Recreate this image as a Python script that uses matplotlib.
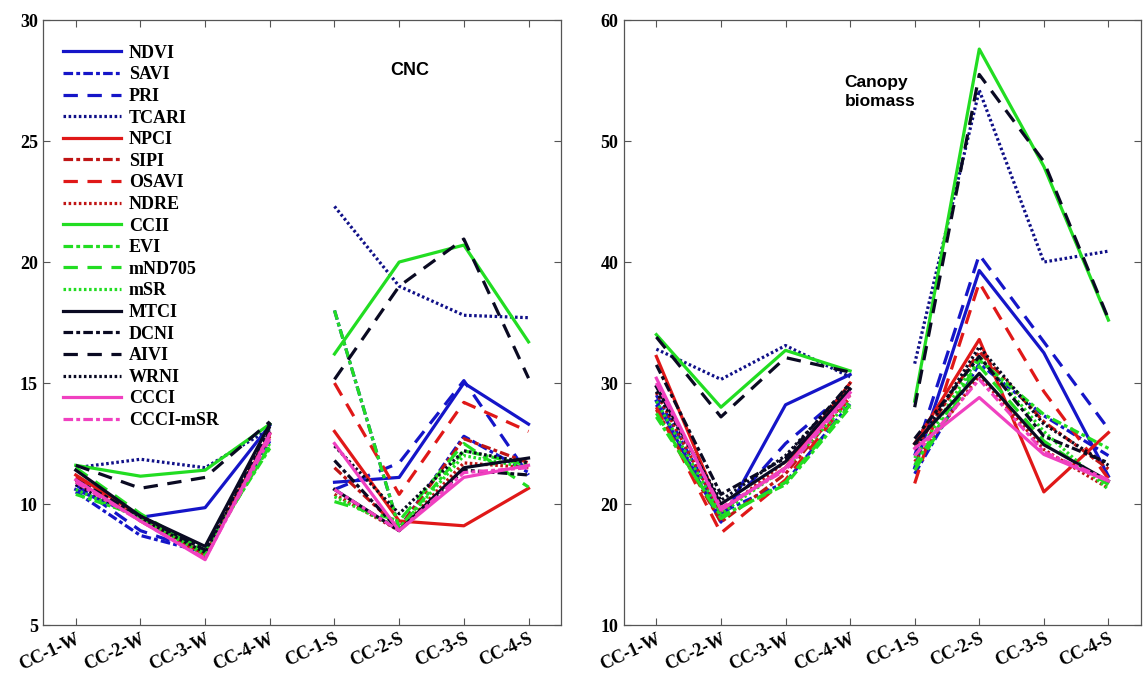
import matplotlib
matplotlib.use("Agg")
import matplotlib.pyplot as plt
import numpy as np

categories = ["CC-1-W", "CC-2-W", "CC-3-W", "CC-4-W", "CC-1-S", "CC-2-S", "CC-3-S", "CC-4-S"]
indices = ["NDVI", "SAVI", "PRI", "TCARI", "NPCI", "SIPI", "OSAVI", "NDRE",
           "CCII", "EVI", "mND705", "mSR", "MTCI", "DCNI", "AIVI", "WRNI",
           "CCCI", "CCCI-mSR"]

# CNC panel (values per index, 8 categories)
cnc_NDVI = [10.6, 9.45, 9.85, 13.25, 10.9, 11.1, 15.0, 13.3]
cnc_SAVI = [10.5, 8.7, 8.0, 12.6, 18.0, 9.0, 12.8, 11.3]
cnc_PRI = [10.8, 8.9, 8.0, 12.8, 10.6, 11.7, 15.1, 11.2]
cnc_TCARI = [11.5, 11.85, 11.5, 13.1, 22.3, 19.0, 17.8, 17.7]
cnc_NPCI = [11.2, 9.5, 7.9, 12.9, 13.0, 9.3, 9.1, 10.65]
cnc_SIPI = [11.0, 9.4, 7.9, 12.9, 11.5, 9.0, 12.7, 11.7]
cnc_OSAVI = [11.1, 9.3, 7.8, 13.0, 15.0, 10.4, 14.2, 13.0]
cnc_NDRE = [10.9, 9.4, 7.9, 12.8, 10.4, 8.9, 11.7, 11.5]
cnc_CCII = [11.6, 11.15, 11.4, 13.3, 16.2, 20.0, 20.7, 16.7]
cnc_EVI = [10.4, 9.5, 8.1, 12.3, 18.0, 9.0, 12.2, 11.6]
cnc_mND705 = [11.5, 9.6, 8.0, 12.4, 10.1, 9.3, 12.5, 10.7]
cnc_mSR = [10.6, 9.4, 7.9, 12.5, 10.3, 9.0, 12.0, 11.5]
cnc_MTCI = [11.4, 9.5, 8.25, 13.3, 10.6, 8.9, 11.5, 11.9]
cnc_DCNI = [11.0, 9.5, 8.1, 13.2, 11.8, 8.9, 11.4, 11.2]
cnc_AIVI = [11.6, 10.65, 11.1, 13.4, 15.15, 19.0, 20.95, 15.2]
cnc_WRNI = [10.8, 9.4, 8.0, 13.0, 12.4, 9.6, 12.2, 11.7]
cnc_CCCI = [11.0, 9.3, 7.7, 12.9, 12.5, 8.9, 11.1, 11.6]
cnc_CCCImSR = [10.9, 9.3, 7.75, 12.7, 10.6, 8.9, 11.3, 11.5]

# Canopy biomass panel
bio_NDVI = [28.5, 18.5, 28.2, 30.7, 23.0, 39.3, 32.5, 22.3]
bio_SAVI = [29.0, 19.3, 21.8, 28.3, 22.5, 31.6, 27.3, 24.0]
bio_PRI = [28.2, 19.0, 25.0, 29.5, 24.0, 40.6, 33.4, 26.2]
bio_TCARI = [32.8, 30.3, 33.1, 30.5, 31.6, 54.2, 40.0, 40.9]
bio_NPCI = [32.2, 19.5, 23.0, 30.0, 25.0, 33.6, 21.0, 25.9]
bio_SIPI = [27.8, 18.5, 22.5, 29.0, 24.5, 32.6, 26.8, 22.9]
bio_OSAVI = [28.0, 17.6, 22.0, 28.8, 21.7, 38.3, 29.3, 22.1]
bio_NDRE = [29.2, 19.3, 23.5, 29.5, 23.5, 30.6, 24.5, 21.3]
bio_CCII = [34.0, 28.0, 32.7, 31.0, 28.5, 57.6, 47.9, 35.2]
bio_EVI = [27.2, 19.0, 21.6, 28.0, 23.2, 31.9, 27.4, 24.6]
bio_mND705 = [27.5, 18.8, 21.8, 28.2, 22.8, 31.4, 25.2, 21.6]
bio_mSR = [28.5, 19.2, 23.0, 28.5, 23.8, 32.2, 26.0, 21.2]
bio_MTCI = [29.7, 20.0, 23.5, 29.5, 25.0, 30.8, 24.9, 21.9]
bio_DCNI = [31.5, 20.8, 23.8, 30.0, 25.4, 32.2, 25.6, 23.4]
bio_AIVI = [33.8, 27.2, 32.1, 30.9, 28.0, 55.5, 48.3, 35.3]
bio_WRNI = [29.3, 20.3, 24.0, 29.8, 24.5, 33.0, 26.6, 23.2]
bio_CCCI = [30.4, 19.5, 23.0, 29.2, 24.6, 28.8, 24.1, 21.9]
bio_CCCImSR = [30.0, 19.7, 22.8, 29.0, 24.0, 30.3, 24.3, 22.0]

cnc_data = [cnc_NDVI, cnc_SAVI, cnc_PRI, cnc_TCARI, cnc_NPCI, cnc_SIPI, cnc_OSAVI, cnc_NDRE,
            cnc_CCII, cnc_EVI, cnc_mND705, cnc_mSR, cnc_MTCI, cnc_DCNI, cnc_AIVI, cnc_WRNI,
            cnc_CCCI, cnc_CCCImSR]
bio_data = [bio_NDVI, bio_SAVI, bio_PRI, bio_TCARI, bio_NPCI, bio_SIPI, bio_OSAVI, bio_NDRE,
            bio_CCII, bio_EVI, bio_mND705, bio_mSR, bio_MTCI, bio_DCNI, bio_AIVI, bio_WRNI,
            bio_CCCI, bio_CCCImSR]

colors = ["#1515C8", "#1515C8", "#1515C8", "#101088",
          "#E01818", "#C01515", "#E01818", "#C01515",
          "#22DD22", "#22DD22", "#22DD22", "#22DD22",
          "#0A0A22", "#0A0A22", "#0A0A22", "#0A0A22",
          "#F040C0", "#F040C0"]
SOLID = "-"
DASHDOT = (0, (3.0, 1.0, 1.2, 1.0))
DASHED = (0, (4.5, 3.0))
DOTTED = (0, (0.8, 0.8))
styles = [SOLID, DASHDOT, DASHED, DOTTED] * 4 + [SOLID, DASHDOT]

serif = "Liberation Serif"
sans = "Liberation Sans"

fig = plt.figure(figsize=(11.43, 6.79), dpi=100)
ax1 = fig.add_axes([0.038, 0.0795, 0.4527, 0.891])
ax2 = fig.add_axes([0.546, 0.0795, 0.452, 0.891])

x = np.arange(len(categories))

def draw(ax, data, ylim, yticks):
    handles = []
    for name, vals, c, ls in zip(indices, data, colors, styles):
        v = np.array(vals, dtype=float)
        kw = dict(color=c, lw=2.3, linestyle=ls)
        h, = ax.plot(x[:4], v[:4], label=name, **kw)
        ax.plot(x[4:], v[4:], **kw)
        handles.append(h)
    ax.set_xlim(-0.5, 7.5)
    ax.set_ylim(*ylim)
    ax.set_yticks(yticks)
    ax.set_xticks(x)
    ax.set_xticklabels(categories, rotation=25, ha="right", va="top",
                       rotation_mode="anchor", fontfamily=serif, fontweight="bold", fontsize=13)
    for lab in ax.get_yticklabels():
        lab.set_fontfamily(serif)
        lab.set_fontweight("bold")
        lab.set_fontsize(13)
    ax.tick_params(direction="in", length=5, width=0.8, color="#555555",
                   top=True, right=True, pad=4)
    ax.tick_params(axis="x", pad=4)
    for s in ax.spines.values():
        s.set_color("#555555")
        s.set_linewidth(0.9)
    return handles

h = draw(ax1, cnc_data, (5, 30), [5, 10, 15, 20, 25, 30])
draw(ax2, bio_data, (10, 60), [10, 20, 30, 40, 50, 60])

leg = ax1.legend(handles=h, loc="upper left", bbox_to_anchor=(0.013, 0.98), frameon=False,
                 prop={"family": serif, "weight": "bold", "size": 13},
                 handlelength=3.2, handletextpad=0.45, labelspacing=0.255, borderaxespad=0.3)

ax1.text(0.708, 0.917, "CNC", transform=ax1.transAxes, ha="center", va="center",
         fontfamily=sans, fontweight="bold", fontsize=13)
ax2.text(0.427, 0.881, "Canopy\nbiomass", transform=ax2.transAxes, ha="left", va="center",
         fontfamily=sans, fontweight="bold", fontsize=12.5, linespacing=1.3)

fig.savefig("out.png", dpi=100)
